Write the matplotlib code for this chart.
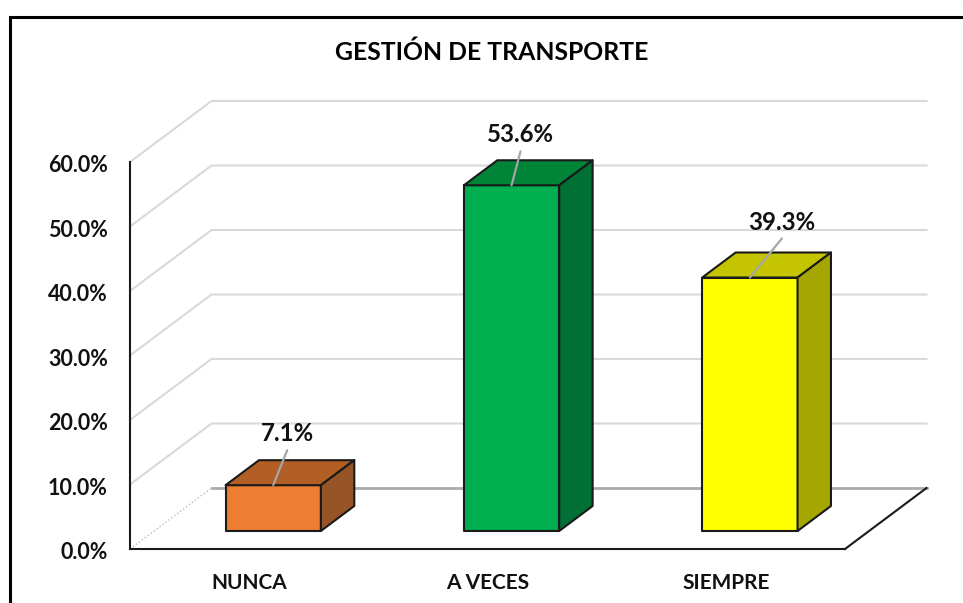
import matplotlib
matplotlib.use('Agg')
import matplotlib.pyplot as plt
from matplotlib.lines import Line2D
from matplotlib.transforms import ScaledTranslation

categorias = ['NUNCA', 'A VECES', 'SIEMPRE']
valores = [7.1, 53.6, 39.3]
ticks = [0, 10, 20, 30, 40, 50, 60]
col_frente = ['#ED7D31', '#00B050', '#FFFF00']
col_arriba = ['#B35E25', '#008437', '#C4C400']
col_lado = ['#975426', '#007035', '#A6A600']
# label offset from the bar top, in pixels
off_label = [(14, 52), (9, 51), (32, 55)]
off_linea = [(14, 35), (9, 34), (32, 39)]

W, H = 963, 603
plt.rcParams['font.family'] = ['Lato', 'DejaVu Sans']
plt.rcParams['font.weight'] = 'bold'

fig = plt.figure(figsize=(W / 100, H / 100), dpi=100)
ax = fig.add_axes([130 / W, 1 - 549 / H, 715 / W, 387 / H])
ax.set_xlim(0, 3)
ax.set_ylim(0, 60)
ax.patch.set_alpha(0)

# oblique depth of the 3d box, in data units
px_x = 3 / 715
px_y = 60 / 387
prof_x = 81.5 * px_x
prof_y = 61 * px_y
ini = 0.295
fin = 0.705
ancho = 0.4

# back wall and side wall gridlines
for t in ticks:
    c = '#D9D9D9'
    if t == 0:
        ax.plot([prof_x, 3 + prof_x], [prof_y, prof_y], color='#ABABAB', lw=2, clip_on=False, zorder=1)
        ax.plot([0, prof_x], [0, prof_y], color='#BBBBBB', lw=1, ls=':', clip_on=False, zorder=1)
        continue
    ax.plot([0, prof_x, 3 + prof_x], [t, t + prof_y, t + prof_y], color=c, lw=1.5, clip_on=False, zorder=1)

# right edge of the floor
ax.plot([3, 3 + prof_x], [0, prof_y], color='#1A1A1A', lw=1.5, clip_on=False, zorder=2)

for i, v in enumerate(valores):
    x0 = i + 0.5 - ancho / 2 + ini * prof_x
    x1 = x0 + ancho
    y0 = ini * prof_y
    y1 = y0 + v
    dx = (fin - ini) * prof_x
    dy = (fin - ini) * prof_y
    estilo = dict(edgecolor='#1A1A1A', lw=1.5, clip_on=False, zorder=3, joinstyle='round')
    ax.fill([x0, x1, x1, x0], [y0, y0, y1, y1], facecolor=col_frente[i], **estilo)
    ax.fill([x0, x1, x1 + dx, x0 + dx], [y1, y1, y1 + dy, y1 + dy], facecolor=col_arriba[i], **estilo)
    ax.fill([x1, x1 + dx, x1 + dx, x1], [y0, y0 + dy, y1 + dy, y1], facecolor=col_lado[i], **estilo)
    xm = (x0 + x1) / 2
    ax.annotate('', xy=(xm, y1), xytext=off_linea[i], textcoords='offset pixels',
                arrowprops=dict(arrowstyle='-', color='#A6A6A6', lw=1.6, shrinkA=0, shrinkB=0), zorder=4)
    ax.annotate('%.1f%%' % v, xy=(xm, y1), xytext=off_label[i], textcoords='offset pixels',
                ha='center', va='center', fontsize=17.3, fontweight='bold', color='#111111', zorder=5)

ax.set_xticks([i + 0.5 for i in range(len(categorias))])
ax.set_xticklabels(categorias)
ax.set_yticks(ticks)
ax.set_yticklabels(['%.1f%%' % t for t in ticks])
ax.tick_params(axis='x', length=0, pad=17, labelsize=15, labelcolor='#111111')
ax.tick_params(axis='y', length=0, pad=16, labelsize=15.5, labelcolor='#111111')
for lab in ax.get_yticklabels():
    lab.set_transform(lab.get_transform() + ScaledTranslation(0, -1.2 / 72, fig.dpi_scale_trans))
ax.spines['top'].set_visible(False)
ax.spines['right'].set_visible(False)
ax.spines['left'].set_linewidth(1.5)
ax.spines['bottom'].set_linewidth(1.5)
ax.spines['left'].set_color('#1A1A1A')
ax.spines['bottom'].set_color('#1A1A1A')

fig.text(492 / W, 1 - 52 / H, 'GESTIÓN DE TRANSPORTE', ha='center', va='center',
         fontsize=17.8, fontweight='bold', color='black')

# outer frame, only top and left are in the crop
fig.add_artist(Line2D([9.5 / W, 9.5 / W, 1], [0, 1 - 17 / H, 1 - 17 / H], color='black', lw=2.2,
                      transform=fig.transFigure, solid_joinstyle='miter'))

fig.savefig('out.png', dpi=100)
